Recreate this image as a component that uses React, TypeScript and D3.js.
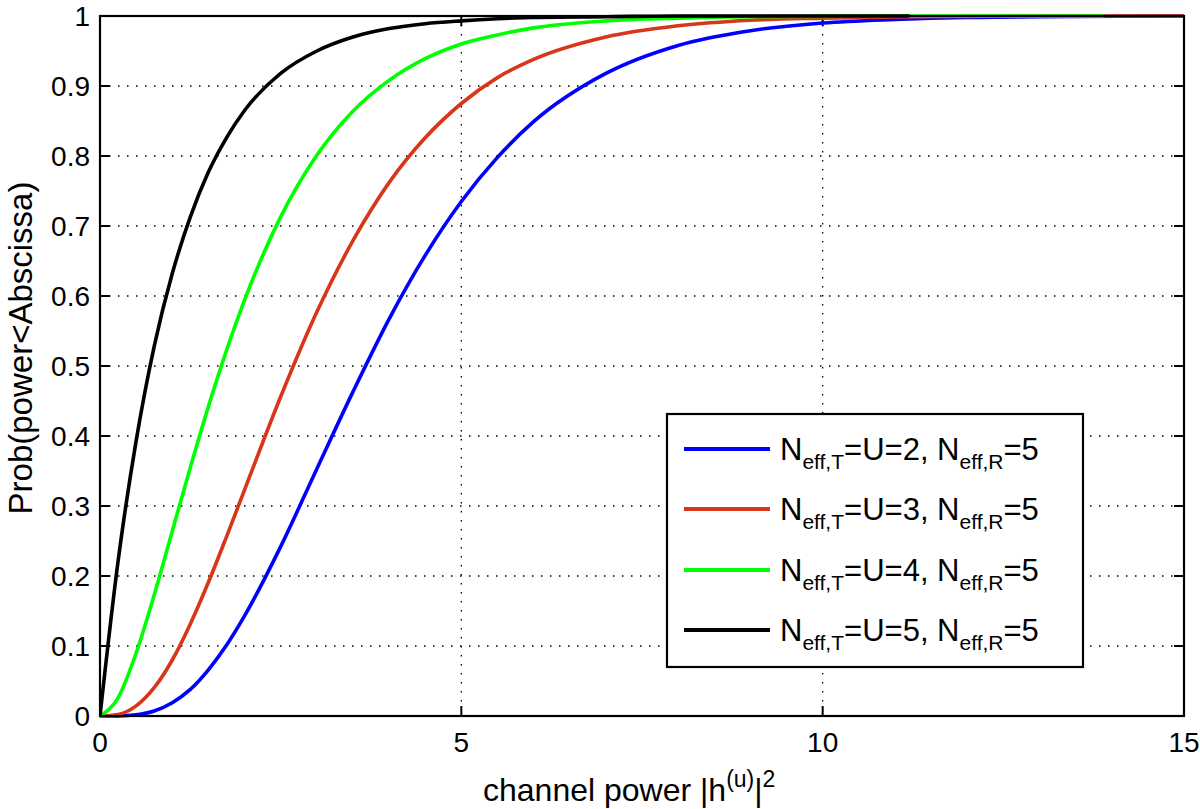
import React from "react";
import * as d3 from "d3";

const xGrid = [0, 0.25, 0.5, 0.75, 1, 1.25, 1.5, 1.75, 2, 2.5, 3, 3.5, 4, 4.5, 5, 5.5, 6, 7, 8, 9, 10, 11, 12, 13, 15];

const blueU2 = [0, 0.0001, 0.0018, 0.0072, 0.019, 0.038, 0.066, 0.101, 0.143, 0.242, 0.353, 0.463, 0.567, 0.658, 0.735, 0.798, 0.849, 0.918, 0.958, 0.979, 0.99, 0.995, 0.998, 0.999, 1];
const redU3 = [0, 0.0022, 0.0144, 0.0404, 0.08, 0.1315, 0.191, 0.256, 0.323, 0.456, 0.577, 0.679, 0.762, 0.826, 0.875, 0.912, 0.938, 0.97, 0.986, 0.994, 0.997, 0.9988, 0.9995, 1, 1];
const greenU4 = [0, 0.026, 0.09, 0.173, 0.264, 0.355, 0.442, 0.522, 0.594, 0.713, 0.801, 0.864, 0.908, 0.939, 0.96, 0.973, 0.983, 0.993, 0.997, 0.999, 0.9995, 1, 1, 1];
const blackU5 = [0, 0.221, 0.393, 0.528, 0.632, 0.713, 0.777, 0.826, 0.865, 0.918, 0.95, 0.97, 0.982, 0.989, 0.993, 0.996, 0.998, 0.999, 1, 1, 1];
const greenEndX = 13.9;
const blackEndX = 11.2;

const yTicks = [0, 0.1, 0.2, 0.3, 0.4, 0.5, 0.6, 0.7, 0.8, 0.9, 1];
const xTicks = [0, 5, 10, 15];
const legendU = ["2", "3", "4", "5"];

const FONT = "'Liberation Sans', Arial, Helvetica, sans-serif";

function pts(vals: number[], endX?: number): [number, number][] {
  const out: [number, number][] = vals.map((v, i) => [xGrid[i], v]);
  if (endX !== undefined) out.push([endX, 1]);
  return out;
}

const series = [
  { name: "U2", color: "#0000ff", data: pts(blueU2) },
  { name: "U3", color: "#d7361a", data: pts(redU3) },
  { name: "U4", color: "#00ff00", data: pts(greenU4, greenEndX) },
  { name: "U5", color: "#000000", data: pts(blackU5, blackEndX) },
];

export default function App() {
  const W = 1200, H = 809;
  const L = 100, R = 1184, T = 16, B = 716;
  const x = d3.scaleLinear().domain([0, 15]).range([L, R]);
  const y = d3.scaleLinear().domain([0, 1]).range([B, T]);
  const line = d3.line<[number, number]>().x((d) => x(d[0])).y((d) => y(d[1])).curve(d3.curveMonotoneX);

  const lgX = 667, lgY = 414, lgW = 416, lgH = 253;
  const rowY = [449, 509, 570, 630];

  return (
    <svg width={W} height={H} style={{ position: "absolute", left: 0, top: 0, background: "#fff" }} fontFamily={FONT}>
      <rect x={0} y={0} width={W} height={H} fill="#fff" />
      {/* grid */}
      {yTicks.slice(1, -1).map((t) => (
        <line key={"gy" + t} x1={L} x2={R} y1={y(t)} y2={y(t)} stroke="#000" strokeWidth={1.3} strokeDasharray="1.5,7.5" />
      ))}
      {xTicks.slice(1, -1).map((t) => (
        <line key={"gx" + t} x1={x(t)} x2={x(t)} y1={T} y2={B} stroke="#000" strokeWidth={1.3} strokeDasharray="1.5,7.5" />
      ))}
      {/* ticks */}
      {yTicks.map((t) => (
        <g key={"ty" + t}>
          <line x1={L} x2={L + 10} y1={y(t)} y2={y(t)} stroke="#000" strokeWidth={2} />
          <line x1={R} x2={R - 10} y1={y(t)} y2={y(t)} stroke="#000" strokeWidth={2} />
          <text x={L - 10} y={y(t)} dy="0.36em" textAnchor="end" fontSize={28}>{String(t)}</text>
        </g>
      ))}
      {xTicks.map((t) => (
        <g key={"tx" + t}>
          <line x1={x(t)} x2={x(t)} y1={B} y2={B - 10} stroke="#000" strokeWidth={2} />
          <line x1={x(t)} x2={x(t)} y1={T} y2={T + 10} stroke="#000" strokeWidth={2} />
          <text x={x(t)} y={752} textAnchor="middle" fontSize={28}>{String(t)}</text>
        </g>
      ))}
      {/* curves */}
      <defs>
        <clipPath id="plotclip">
          <rect x={L} y={T - 2} width={R - L} height={B - T + 4} />
        </clipPath>
      </defs>
      <g clipPath="url(#plotclip)">
        {series.map((s) => (
          <path key={s.name} d={line(s.data) || ""} fill="none" stroke={s.color} strokeWidth={3.6} strokeLinejoin="round" />
        ))}
      </g>
      {/* axes box */}
      <rect x={L} y={T} width={R - L} height={B - T} fill="none" stroke="#000" strokeWidth={2.2} />
      {/* labels */}
      <text x={483} y={801} fontSize={32}>
        channel power |h<tspan dy={-14} fontSize={23}>(u)</tspan><tspan dy={14}>|</tspan><tspan dy={-14} fontSize={23}>2</tspan>
      </text>
      <text transform={`translate(32,348) rotate(-90)`} textAnchor="middle" fontSize={33}>Prob(power&lt;Abscissa)</text>
      {/* legend */}
      <rect x={lgX} y={lgY} width={lgW} height={lgH} fill="#fff" stroke="#000" strokeWidth={2.2} />
      {series.map((s, i) => (
        <g key={"lg" + s.name}>
          <line x1={684} x2={770} y1={rowY[i]} y2={rowY[i]} stroke={s.color} strokeWidth={4} />
          <text x={780} y={rowY[i] + 11} fontSize={31}>
            N<tspan dy={9} fontSize={21}>eff,T</tspan><tspan dy={-9}>=U={legendU[i]}, N</tspan><tspan dy={9} fontSize={21}>eff,R</tspan><tspan dy={-9}>=5</tspan>
          </text>
        </g>
      ))}
    </svg>
  );
}
